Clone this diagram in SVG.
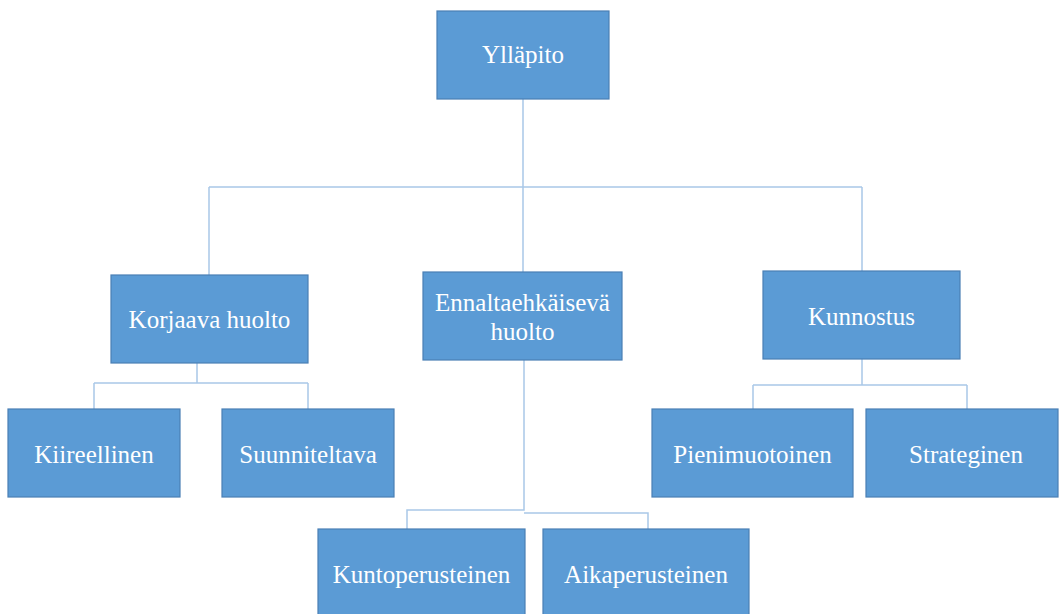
<svg xmlns="http://www.w3.org/2000/svg" width="1059" height="614" viewBox="0 0 1059 614">
<style>
.box{fill:#5B9BD5;stroke:#4A7FB5;stroke-width:1.2}
.lbl{font-family:"Liberation Serif","Times New Roman",serif;font-size:25px;fill:#FFFFFF;text-anchor:middle}
.con{fill:none;stroke:#A9C8E8;stroke-width:1.5}
</style>
<rect width="1059" height="614" fill="#FFFFFF"/>
<g id="connectors">
<path class="con" d="M523,99 V187 M209,187 H862 M209,187 V275 M523,187 V272 M862,187 V271"/>
<path class="con" d="M197,363 V383 M94,383 H308 M94,383 V409 M308,383 V409"/>
<path class="con" d="M524,360 V510 H407 V529 M524,513 H648 V529"/>
<path class="con" d="M862,359 V385 M753,385 H967 M753,385 V409 M967,385 V409"/>
</g>
<g id="yllapito"><rect class="box" x="437" y="11" width="172" height="88"/><text class="lbl" x="523" y="63">Ylläpito</text></g>
<g id="korjaava"><rect class="box" x="111" y="275" width="197" height="88"/><text class="lbl" x="209.5" y="328">Korjaava huolto</text></g>
<g id="ennalta"><rect class="box" x="423" y="272" width="199" height="88"/><text class="lbl" x="522.5" y="311">Ennaltaehkäisevä</text><text class="lbl" x="522.5" y="340">huolto</text></g>
<g id="kunnostus"><rect class="box" x="763" y="271" width="197" height="88"/><text class="lbl" x="861.5" y="325">Kunnostus</text></g>
<g id="kiireellinen"><rect class="box" x="8" y="409" width="172" height="88"/><text class="lbl" x="94" y="463">Kiireellinen</text></g>
<g id="suunniteltava"><rect class="box" x="222" y="409" width="172" height="88"/><text class="lbl" x="308" y="463">Suunniteltava</text></g>
<g id="pienimuotoinen"><rect class="box" x="652" y="409" width="201" height="88"/><text class="lbl" x="752.5" y="463">Pienimuotoinen</text></g>
<g id="strateginen"><rect class="box" x="866" y="409" width="192" height="88"/><text class="lbl" x="966" y="463">Strateginen</text></g>
<g id="kunto"><rect class="box" x="318" y="529" width="207" height="90"/><text class="lbl" x="421.5" y="583">Kuntoperusteinen</text></g>
<g id="aika"><rect class="box" x="543" y="529" width="206" height="90"/><text class="lbl" x="646" y="583">Aikaperusteinen</text></g>
</svg>
